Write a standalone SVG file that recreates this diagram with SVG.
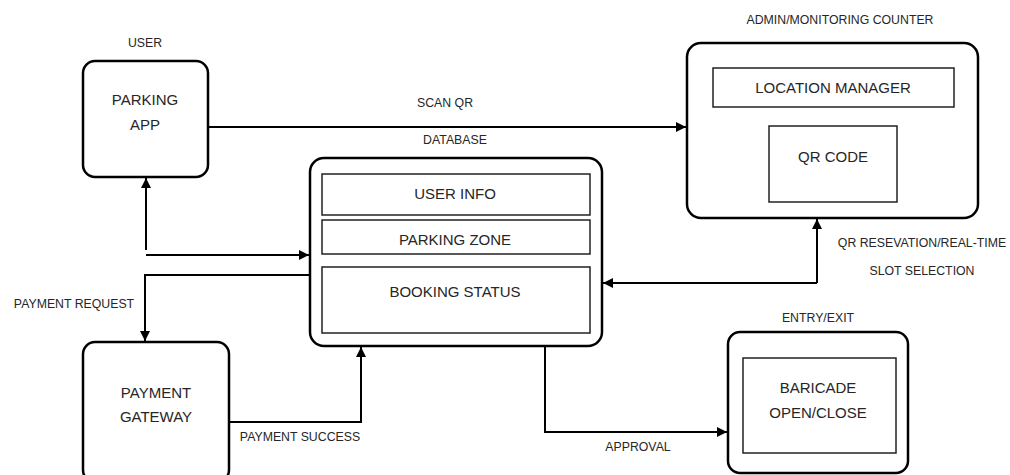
<svg xmlns="http://www.w3.org/2000/svg" width="1010" height="475" viewBox="0 0 1010 475">
<defs>
<style>
.box{fill:#fff;stroke:#000;stroke-width:2.5}
.inner{fill:#fff;stroke:#222;stroke-width:1.5}
.t{font-family:"Liberation Sans",Arial,sans-serif;font-size:15px;fill:#262626;text-anchor:middle}
.l{font-family:"Liberation Sans",Arial,sans-serif;font-size:12.3px;fill:#262626;text-anchor:middle}
.c{fill:none;stroke:#000;stroke-width:2}
</style>
<marker id="ah" viewBox="0 0 10 10" refX="10" refY="5" markerWidth="5" markerHeight="5" orient="auto" markerUnits="strokeWidth">
<path d="M0,0 L10,5 L0,10 z" fill="#000"/>
</marker>
</defs>
<rect width="1010" height="475" fill="#fff"/>

<g id="parking-app">
<text class="l" x="145" y="47">USER</text>
<rect class="box" x="83" y="61" width="125" height="116" rx="12"/>
<text class="t" x="145" y="105">PARKING</text>
<text class="t" x="145" y="130">APP</text>
</g>

<g id="database">
<text class="l" x="455" y="144">DATABASE</text>
<rect class="box" x="310" y="158" width="292" height="188" rx="14"/>
<rect class="inner" x="322" y="174" width="268" height="41"/>
<text class="t" x="455" y="199">USER INFO</text>
<rect class="inner" x="322" y="220" width="268" height="34"/>
<text class="t" x="455" y="245">PARKING ZONE</text>
<rect class="inner" x="322" y="267" width="268" height="66"/>
<text class="t" x="455" y="297">BOOKING STATUS</text>
</g>

<g id="admin">
<text class="l" x="840" y="24">ADMIN/MONITORING COUNTER</text>
<rect class="box" x="687" y="43" width="291" height="175" rx="14"/>
<rect class="inner" x="713" y="68" width="241" height="39"/>
<text class="t" x="833" y="93">LOCATION MANAGER</text>
<rect class="inner" x="769" y="126" width="128" height="76"/>
<text class="t" x="833" y="162">QR CODE</text>
</g>

<g id="payment-gateway">
<rect class="box" x="83" y="342" width="146" height="140" rx="12"/>
<text class="t" x="156" y="398">PAYMENT</text>
<text class="t" x="156" y="422">GATEWAY</text>
</g>

<g id="entry-exit">
<text class="l" x="818" y="322">ENTRY/EXIT</text>
<rect class="box" x="728" y="332" width="180" height="141" rx="12"/>
<rect class="inner" x="743" y="358" width="153" height="95"/>
<text class="t" x="818" y="393">BARICADE</text>
<text class="t" x="818" y="418">OPEN/CLOSE</text>
</g>

<g id="connectors">
<path class="c" d="M208,127 H686" marker-end="url(#ah)"/>
<text class="l" x="445" y="107">SCAN QR</text>
<path class="c" d="M146,250 V178" marker-end="url(#ah)"/>
<path class="c" d="M146,255 H309" marker-end="url(#ah)"/>
<path class="c" d="M310,275 H145 V341" marker-end="url(#ah)"/>
<text class="l" x="74" y="308">PAYMENT REQUEST</text>
<path class="c" d="M229,422 H361 V347" marker-end="url(#ah)"/>
<text class="l" x="300" y="441">PAYMENT SUCCESS</text>
<path class="c" d="M817,283 V219" marker-end="url(#ah)"/>
<path class="c" d="M817,283 H603" marker-end="url(#ah)"/>
<text class="l" x="922" y="247">QR RESEVATION/REAL-TIME</text>
<text class="l" x="922" y="275">SLOT SELECTION</text>
<path class="c" d="M545,346 V432 H727" marker-end="url(#ah)"/>
<text class="l" x="638" y="451">APPROVAL</text>
</g>
</svg>
